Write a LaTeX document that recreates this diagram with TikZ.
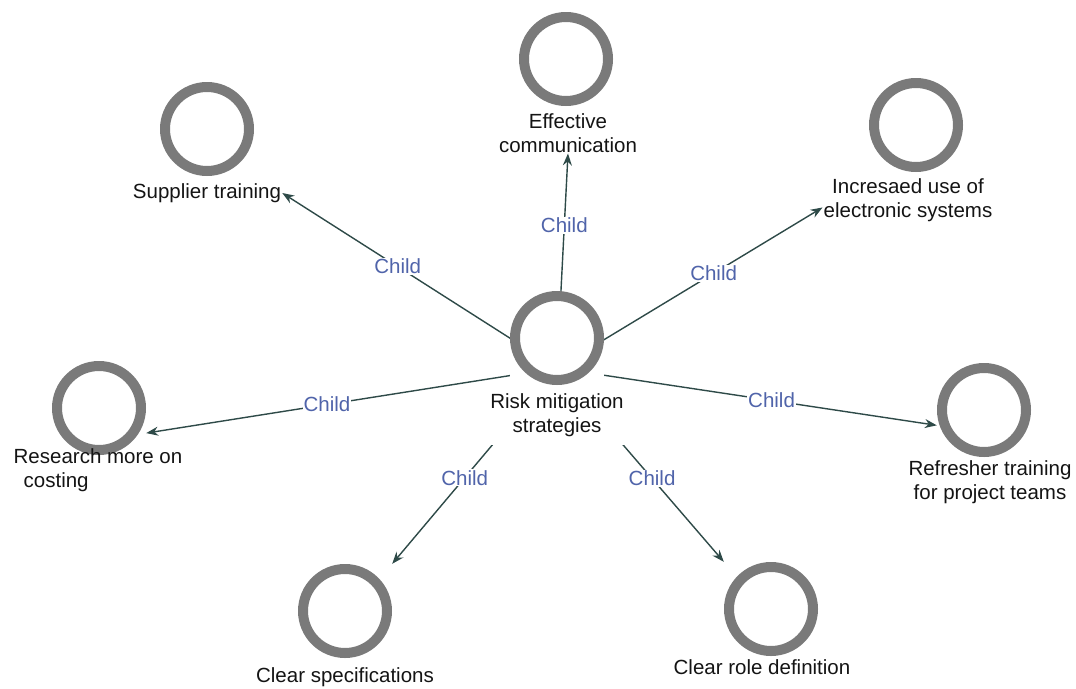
\documentclass[tikz,border=0pt]{standalone}
\usepackage{fontspec}
\setmainfont{Liberation Sans}
\usetikzlibrary{arrows.meta,backgrounds,fit}
\definecolor{ringgray}{HTML}{7A7A7A}
\definecolor{linkcol}{HTML}{2E4A48}
\definecolor{childcol}{HTML}{5064AA}
\definecolor{captext}{HTML}{141414}

\begin{document}
\begin{tikzpicture}[x=1pt,y=-1pt,
  ring/.style={rectangle, minimum size=94pt, inner sep=0pt,
    path picture={\fill[white] (path picture bounding box.center) circle (47pt);
      \draw[ringgray, line width=10pt]
      (path picture bounding box.center) circle (42pt);}},
  caption/.style={font=\fontsize{20.5}{23.5}\selectfont, align=center,
    inner sep=1pt, text=captext},
  link/.style={draw=linkcol, line width=1.4pt,
    -{Stealth[length=12pt,width=9pt]}},
  tag/.style={font=\fontsize{20.5}{23.5}\selectfont, text=childcol,
    fill=white, inner sep=1pt}]

\useasboundingbox (0,0) rectangle (1076,688);

% central topic
\node[caption, fill=white, inner ysep=9pt] (hubText) at (557,415) {Risk mitigation\\strategies};
\node[ring, fill=white] (hubRing) at (557,338) {};
\node[fit=(hubRing)(hubText), inner sep=0pt] (hub) {};

% child topics
\node[ring] (effRing) at (566,59) {};
\node[caption] (effText) at (568,133) {Effective\\communication};

\node[ring] (supRing) at (207,129) {};
\node[caption] (supText) at (207,193) {Supplier training};

\node[ring] (incRing) at (916,125) {};
\node[caption] (incText) at (908,200) {Incresaed use of\\electronic systems};

\node[ring] (resRing) at (99,408) {};
\node[caption, align=left] (resText) at (98,470) {Research more on\\\hspace*{10pt}costing};

\node[ring] (refRing) at (984,410) {};
\node[caption] (refText) at (990,482) {Refresher training\\for project teams};

\node[ring] (specRing) at (345,611) {};
\node[caption] (specText) at (345,677) {Clear specifications};

\node[ring] (roleRing) at (771,609) {};
\node[caption] (roleText) at (762,667) {Clear role definition};

% connectors, kept behind the topics
\begin{scope}[on background layer]
  \draw[link] (hub.center) -- (effText.south) node[tag, pos=0.665] {Child};
  \draw[link] (hub.center) -- (supText.east) node[tag, pos=0.58] {Child};
  \draw[link] (hub.center) -- (incText.185) node[tag, pos=0.59] {Child};
  \draw[link] (hub.center) -- (resRing.-28) node[tag, pos=0.56] {Child};
  \draw[link] (hub.center) -- (refRing.198) node[tag, pos=0.565] {Child};
  \draw[link] (hub.center) -- (specRing.north east) node[tag, pos=0.56] {Child};
  \draw[link] (hub.center) -- (roleRing.north west) node[tag, pos=0.57] {Child};
\end{scope}
\end{tikzpicture}
\end{document}
